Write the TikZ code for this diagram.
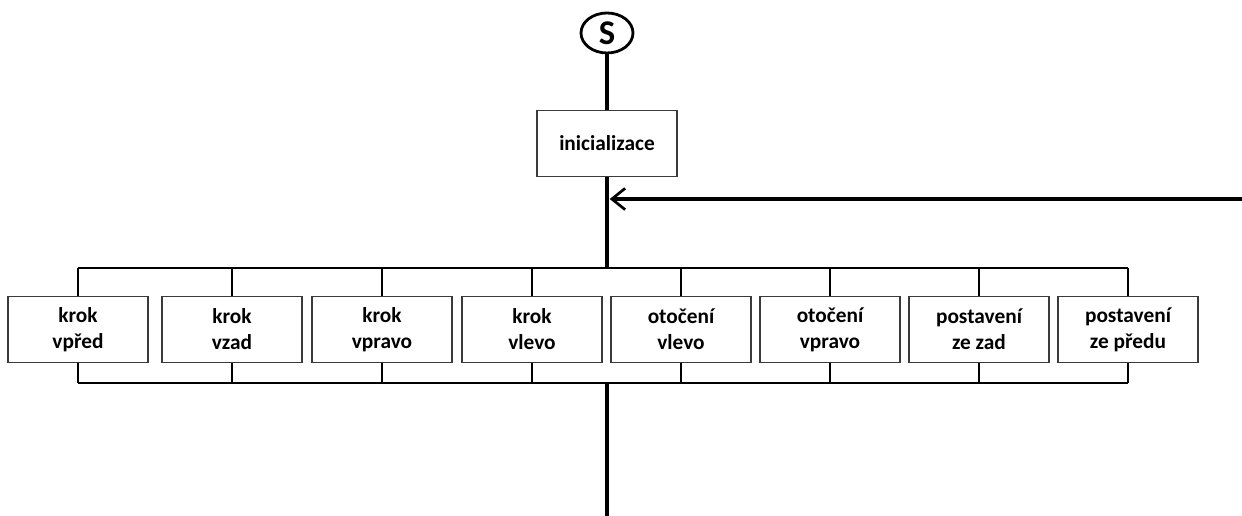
\documentclass[tikz,border=0pt]{standalone}
\usepackage{fontspec}
\setmainfont{Carlito}
\definecolor{FRMgray}{HTML}{3A3A3A}
\usetikzlibrary{arrows.meta, positioning, shapes.geometric}

\tikzset{
  stepbox/.style={draw=FRMgray, line width=0.8pt, fill=white, minimum width=105pt,
    minimum height=49.5pt, align=center, font=\bfseries\fontsize{16}{19.5}\selectfont},
  flow/.style={line width=2.4pt},
  bus/.style={line width=1.6pt}
}

\begin{document}
\begin{tikzpicture}[x=0.75pt, y=-0.75pt]
   \useasboundingbox (0,0) rectangle (1242,516);
   % Start
   \node[ellipse, draw, line width=2.1pt, minimum width=39pt, minimum height=30pt,
      inner sep=0pt, font=\bfseries\fontsize{26}{26}\selectfont] (start) at (607,33) {S};
   % Initialisation
   \node[stepbox, minimum height=50pt] (init) at (607,143.5) {inicializace};
   % Bus points
   \coordinate (top) at (607,268);
   \coordinate (bot) at (607,383);
   \coordinate (end) at (607,516);
   \coordinate (back) at (1242,199);
   \coordinate (join) at (607,199);
   % Main line
   \draw[flow] (start) -- (init);
   \draw[flow] (init) -- (top);
   \draw[flow] (bot) -- (end);
   % Return arrow
   \draw[flow, -{Straight Barb[length=10pt, width=16pt, line width=2pt]}] (back) -- ([xshift=2pt]join);
   % Parallel steps
   \foreach \name/\x/\txt in {b1/78/{krok\\vpřed}, b2/232/{krok\\vzad},
         b3/382/{krok\\vpravo}, b4/532/{krok\\vlevo}, b5/681/{otočení\\vlevo},
         b6/830/{otočení\\vpravo}, b7/979/{postavení\\ze zad}, b8/1128/{postavení\\ze předu}} {
      \node[stepbox] (\name) at (\x,329.5) {\txt};
      \draw[bus] (\name.north) -- (\x,268);
      \draw[bus] (\name.south) -- (\x,383);
   }
   \draw[bus] (b1.north |- top) -- (b8.north |- top);
   \draw[bus] (b1.south |- bot) -- (b8.south |- bot);
\end{tikzpicture}
\end{document}
